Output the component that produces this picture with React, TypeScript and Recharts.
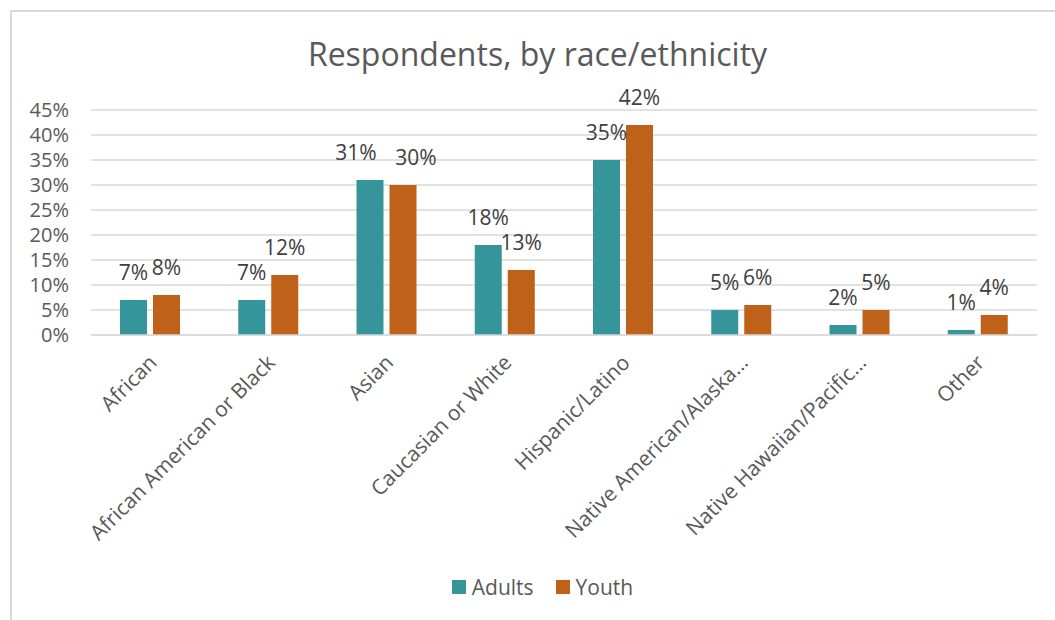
import React from "react";
import {
  BarChart,
  Bar,
  XAxis,
  YAxis,
  CartesianGrid,
  Legend,
  LabelList,
} from "recharts";

const CATEGORIES = [
  "African",
  "African American or Black",
  "Asian",
  "Caucasian or White",
  "Hispanic/Latino",
  "Native American/Alaska…",
  "Native Hawaiian/Pacific…",
  "Other",
];
const ADULTS = [7, 7, 31, 18, 35, 5, 2, 1];
const YOUTH = [8, 12, 30, 13, 42, 6, 5, 4];
const Y_TICKS = [0, 5, 10, 15, 20, 25, 30, 35, 40, 45];

const TEAL = "#36949B";
const ORANGE = "#BF6119";
const TEXT = "#595959";
const LABEL = "#404040";
const GRID = "#D9D9D9";
const FONT = "'Open Sans', sans-serif";

// labels that Excel nudged sideways so they don't collide
const NUDGE: Record<string, [number, number]> = { Asian: [-14, 13] };

const data = CATEGORIES.map((name, i) => ({
  name,
  adults: ADULTS[i],
  youth: YOUTH[i],
}));

const CategoryTick = (props: any) => {
  const { x, y, payload } = props;
  return (
    <g transform={`translate(${x + 8},${y + 21})`}>
      <text
        x={0}
        y={0}
        transform="rotate(-45)"
        textAnchor="end"
        fill={TEXT}
        fontSize={21}
        fontFamily={FONT}
      >
        {payload.value}
      </text>
    </g>
  );
};

const makeLabel = (series: 0 | 1) => (props: any) => {
  const { x, y, width, value, index } = props;
  const nudge = NUDGE[CATEGORIES[index]];
  const dx = nudge ? nudge[series] : 0;
  return (
    <text
      x={x + width / 2 + dx}
      y={y - 20}
      textAnchor="middle"
      fill={LABEL}
      fontSize={21}
      fontFamily={FONT}
    >
      {`${value}%`}
    </text>
  );
};

const LegendContent = () => (
  <div
    style={{
      display: "flex",
      justifyContent: "center",
      gap: 22,
      fontFamily: FONT,
      fontSize: 21,
      color: TEXT,
      paddingLeft: 48,
      marginTop: -2,
    }}
  >
    {[
      { label: "Adults", color: TEAL },
      { label: "Youth", color: ORANGE },
    ].map((it) => (
      <div key={it.label} style={{ display: "flex", alignItems: "center" }}>
        <span
          style={{
            width: 14,
            height: 14,
            background: it.color,
            display: "inline-block",
            marginRight: 6,
          }}
        />
        {it.label}
      </div>
    ))}
  </div>
);

export default function App() {
  return (
    <div
      style={{
        position: "absolute",
        left: 0,
        top: 0,
        width: 1055,
        height: 620,
        background: "#fff",
      }}
    >
      <div
        style={{
          position: "absolute",
          left: 10,
          top: 10,
          width: 1060,
          height: 620,
          border: `2px solid ${GRID}`,
          boxSizing: "border-box",
        }}
      />
      <div
        style={{
          position: "absolute",
          left: 0,
          top: 32,
          width: 1075,
          textAlign: "center",
          fontFamily: FONT,
          fontSize: 32,
          color: TEXT,
        }}
      >
        Respondents, by race/ethnicity
      </div>
      <div style={{ position: "absolute", left: 0, top: 0 }}>
        <BarChart
          width={1055}
          height={620}
          data={data}
          margin={{ top: 110, right: 18, left: 0, bottom: 12 }}
          barGap={6}
          barSize={27}
        >
          <CartesianGrid vertical={false} stroke={GRID} strokeWidth={1.5} />
          <YAxis
            domain={[0, 45]}
            ticks={Y_TICKS}
            tickFormatter={(v) => `${v}%`}
            width={91}
            axisLine={false}
            tickLine={false}
            tickSize={0}
            tickMargin={22}
            interval={0}
            tick={{ fill: TEXT, fontSize: 20, fontFamily: FONT }}
          />
          <XAxis
            dataKey="name"
            interval={0}
            height={240}
            axisLine={{ stroke: GRID, strokeWidth: 1.5 }}
            tickLine={false}
            tick={<CategoryTick />}
          />
          <Legend verticalAlign="bottom" height={33} content={<LegendContent />} />
          <Bar dataKey="adults" name="Adults" fill={TEAL} isAnimationActive={false}>
            <LabelList dataKey="adults" content={makeLabel(0)} />
          </Bar>
          <Bar dataKey="youth" name="Youth" fill={ORANGE} isAnimationActive={false}>
            <LabelList dataKey="youth" content={makeLabel(1)} />
          </Bar>
        </BarChart>
      </div>
    </div>
  );
}
